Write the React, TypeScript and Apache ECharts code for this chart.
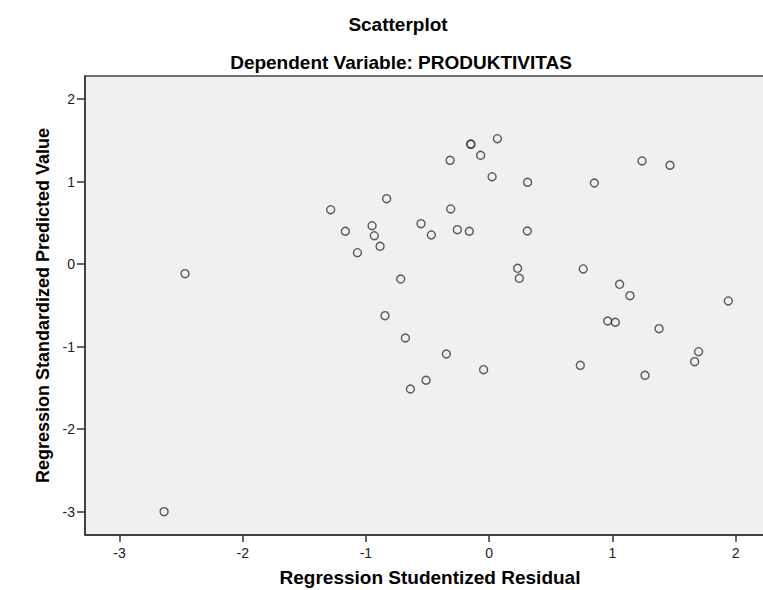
import React, { useEffect, useRef } from "react";
import * as echarts from "echarts";

const chartTitle = "Scatterplot";
const chartSubtitle = "Dependent Variable: PRODUKTIVITAS";
const xAxisName = "Regression Studentized Residual";
const yAxisName = "Regression Standardized Predicted Value";
const xTicks = [-3, -2, -1, 0, 1, 2];
const yTicks = [-3, -2, -1, 0, 1, 2];

// Regression Studentized Residual (x)
const residuals = [
  -1.286, -1.167, -0.95, -0.932, -0.885, -1.069, -2.468, -0.15, -0.148, 0.067,
  -0.317, -0.069, 0.024, 0.312, 0.854, 1.241, 1.468, -0.832, -0.312, -0.553,
  -0.469, -0.258, -0.161, 0.31, -0.718, 0.231, 0.245, 0.764, 1.059, 1.143,
  1.941, -0.845, -0.68, -0.347, -0.639, -0.512, -0.045, 0.962, 1.024, 1.379,
  1.7, 1.668, 0.74, 1.265, -2.638,
];
// Regression Standardized Predicted Value (y)
const predicted = [
  0.659, 0.398, 0.465, 0.344, 0.216, 0.138, -0.116, 1.456, 1.452, 1.52,
  1.258, 1.319, 1.059, 0.992, 0.983, 1.25, 1.198, 0.793, 0.668, 0.49,
  0.353, 0.417, 0.398, 0.401, -0.181, -0.051, -0.172, -0.059, -0.245, -0.383,
  -0.447, -0.625, -0.896, -1.09, -1.514, -1.408, -1.28, -0.69, -0.705, -0.783,
  -1.062, -1.183, -1.227, -1.348, -3.001,
];

const FONT = 'Arial, "Liberation Sans", sans-serif';

export default function App() {
  const ref = useRef<HTMLDivElement>(null);
  useEffect(() => {
    document.body.style.margin = "0";
    const chart = echarts.init(ref.current!, null, { renderer: "svg" });
    const data = residuals.map((x, i) => [x, predicted[i]]);
    chart.setOption({
      animation: false,
      backgroundColor: "#ffffff",
      graphic: [
        {
          type: "text",
          x: 398,
          y: 24,
          style: {
            text: chartTitle,
            font: `bold 19px ${FONT}`,
            fill: "#000",
            textAlign: "center",
            textVerticalAlign: "middle",
          },
        },
        {
          type: "text",
          x: 401,
          y: 62,
          style: {
            text: chartSubtitle,
            font: `bold 19px ${FONT}`,
            fill: "#000",
            textAlign: "center",
            textVerticalAlign: "middle",
          },
        },
      ],
      grid: {
        left: 85,
        top: 76,
        width: 690,
        height: 459,
        outerBoundsMode: "none",
        containLabel: false,
        show: true,
        backgroundColor: "#F0F0F0",
        borderColor: "#444",
        borderWidth: 1.5,
      },
      xAxis: {
        type: "value",
        min: -3.28,
        max: 2.32,
        name: xAxisName,
        nameLocation: "middle",
        nameGap: 33,
        nameTextStyle: { fontFamily: FONT, fontWeight: "bold", fontSize: 19, color: "#000" },
        splitLine: { show: false },
        axisLine: { show: true, onZero: false, lineStyle: { color: "#333", width: 1.5 } },
        axisTick: { show: true, length: 7, customValues: xTicks, lineStyle: { color: "#333", width: 1.5 } },
        axisLabel: {
          customValues: xTicks,
          margin: 11,
          fontFamily: FONT,
          fontSize: 14,
          color: "#222",
        },
      },
      yAxis: {
        type: "value",
        min: -3.284,
        max: 2.28,
        name: yAxisName,
        nameLocation: "middle",
        nameGap: 33,
        nameTextStyle: { fontFamily: FONT, fontWeight: "bold", fontSize: 18, color: "#000" },
        splitLine: { show: false },
        axisLine: { show: true, onZero: false, lineStyle: { color: "#333", width: 1.5 } },
        axisTick: { show: true, length: 8, customValues: yTicks, lineStyle: { color: "#333", width: 1.5 } },
        axisLabel: {
          customValues: yTicks,
          margin: 10,
          fontFamily: FONT,
          fontSize: 14,
          color: "#222",
        },
      },
      series: [
        {
          type: "scatter",
          data,
          symbol: "circle",
          symbolSize: 8,
          itemStyle: { color: "transparent", borderColor: "#333", borderWidth: 1.4 },
        },
      ],
    });
    return () => chart.dispose();
  }, []);
  return <div ref={ref} style={{ width: 763, height: 590 }} />;
}
